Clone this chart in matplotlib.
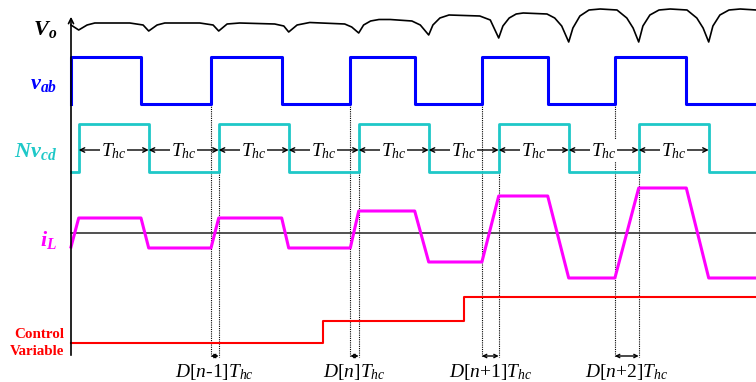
import numpy as np
import matplotlib
matplotlib.use('Agg')
import matplotlib.pyplot as plt

plt.rcParams['mathtext.fontset'] = 'custom'
plt.rcParams['mathtext.rm'] = 'Liberation Serif'
plt.rcParams['mathtext.it'] = 'Liberation Serif:italic'
plt.rcParams['mathtext.bf'] = 'Liberation Serif:bold'
plt.rcParams['mathtext.bfit'] = 'Liberation Serif:italic:bold'
plt.rcParams['font.family'] = 'Liberation Serif'

# time in units of T_hc
vo_t = [0.00, 0.11, 0.23, 0.34, 0.84, 1.03, 1.11, 1.23, 1.34, 1.84, 2.03, 2.11, 2.23, 2.41,
        2.91, 3.04, 3.11, 3.23, 3.41, 3.91, 4.01, 4.11, 4.18, 4.28, 4.40, 4.56, 4.87, 4.99,
        5.11, 5.17, 5.27, 5.40, 5.84, 5.99, 6.11, 6.17, 6.26, 6.36, 6.46, 6.80, 6.91, 7.01,
        7.11, 7.17, 7.27, 7.40, 7.56, 7.80, 7.94, 8.03, 8.11, 8.17, 8.27, 8.40, 8.56, 8.80,
        8.94, 9.03, 9.11, 9.17, 9.27, 9.40, 9.56, 9.79]
vo_v = [25, 20, 25, 27, 27, 25, 19, 25, 27, 27, 25, 19, 26, 27,
        26, 24, 18, 25, 27.5, 26, 23, 17, 25, 29, 30.5, 30.5, 29, 25,
        15, 25, 32, 35, 34, 30, 12, 24, 32, 36, 37, 36, 32, 24,
        8, 22, 34, 40, 41, 40, 32, 22, 8, 24, 35, 40, 41, 40,
        32, 22, 8, 24, 35, 40, 41, 40]

vab_edges = [0.0, 1.0, 2.0, 3.01, 3.99, 4.91, 5.87, 6.81, 7.77, 8.79, 9.79]
nvcd_edges = [0.11, 1.11, 2.11, 3.11, 4.11, 5.11, 6.11, 7.11, 8.11, 9.11]

il_t = [0.0, 0.11, 1.0, 1.11, 2.0, 2.11, 3.01, 3.11, 3.99, 4.11, 4.91, 5.11, 5.87, 6.11,
        6.81, 7.11, 7.77, 8.11, 8.79, 9.11, 9.79]
il_v = [-14, 15, 15, -15, -15, 15, 15, -15, -15, 22, 22, -29, -29, 37,
        37, -45, -45, 45, 45, -45, -45]

ctrl_steps = [3.6, 5.61]
ctrl_levels = [0, 22, 46]

d_starts = [2.0, 3.99, 5.87, 7.77]     # v_ab rising edges
d_ends = [2.11, 4.11, 6.11, 8.11]      # Nv_cd rising edges
d_labels = [r'$D[n$-$1]T_{hc}$', r'$D[n]T_{hc}$', r'$D[n$+$1]T_{hc}$', r'$D[n$+$2]T_{hc}$']

t_end = 9.79
BLUE, CYAN, MAG, RED = '#0000ff', '#1ec8c8', '#ff00ff', '#ff0000'

# vertical placement (figure pixels from top)
VO0, VAB0, VABA, NV0, NVA, IL0, CT0 = 50, 80.5, 23.5, 148, 24, 233, 343


def square(edges, start, t0, t1):
    ts, vs = [t0], [start]
    lev = start
    for e in edges:
        ts += [e, e]
        vs += [lev, -lev]
        lev = -lev
    ts.append(t1)
    vs.append(lev)
    return np.array(ts), np.array(vs)


fig = plt.figure(figsize=(7.56, 3.82), dpi=100)
ax = fig.add_axes([0, 0, 1, 1])
ax.set_xlim(-71 / 70, 685 / 70)
ax.set_ylim(382, 0)
ax.axis('off')

# axis
ax.annotate('', xy=(0, 14), xytext=(0, 358),
            arrowprops=dict(arrowstyle='->', color='black', lw=1.2, mutation_scale=9))

# Vo
ax.plot(vo_t, VO0 - np.array(vo_v), color='black', lw=1.2)

# vab
t, v = square(vab_edges[1:-1], 1, 0, t_end)
t = np.concatenate([[0], t])
v = np.concatenate([[-1], v])
ax.plot(t, VAB0 - VABA * v, color=BLUE, lw=2.2)

# Nvcd
t, v = square(nvcd_edges, -1, 0, t_end)
ax.plot(t, NV0 - NVA * v, color=CYAN, lw=2)

# iL
ax.plot([0, t_end], [IL0, IL0], color='#333333', lw=1.2)
ax.plot(il_t, IL0 - np.array(il_v), color=MAG, lw=2.2)

# control variable
ct = [0, ctrl_steps[0], ctrl_steps[0], ctrl_steps[1], ctrl_steps[1], t_end]
cv = [ctrl_levels[0], ctrl_levels[0], ctrl_levels[1], ctrl_levels[1], ctrl_levels[2], ctrl_levels[2]]
ax.plot(ct, CT0 - np.array(cv), color=RED, lw=1.5)

# T_hc arrows
for a, b in zip(nvcd_edges[:-1], nvcd_edges[1:]):
    ax.annotate('', xy=(b, 150), xytext=(a, 150),
                arrowprops=dict(arrowstyle='<->', color='black', lw=1, mutation_scale=8,
                                shrinkA=0, shrinkB=0))
    ax.text((a + b) / 2, 151, r'$T_{hc}$', fontsize=14, ha='center', va='center',
            bbox=dict(facecolor='white', edgecolor='none', pad=0.5), zorder=5)

# D[n] markers
for s, e, lab in zip(d_starts, d_ends, d_labels):
    ax.plot([s, s], [VAB0 + VABA, 357], color='black', lw=0.8, ls=(0, (1, 1)), zorder=1)
    ax.plot([e, e], [NV0 + NVA, 357], color='black', lw=0.8, ls=(0, (1, 1)), zorder=1)
    ax.annotate('', xy=(e, 356), xytext=(s, 356),
                arrowprops=dict(arrowstyle='<->', color='black', lw=1, mutation_scale=6,
                                shrinkA=0, shrinkB=0))
    ax.text((s + e) / 2, 372, lab, fontsize=14, ha='center', va='center')

# labels
lx = -0.2
ax.text(lx, 30, r'$\mathbfit{V}_{\mathbfit{o}}$', fontsize=16, ha='right', va='center', color='black')
ax.text(lx, 84, r'$\mathbfit{v}_{\mathbfit{ab}}$', fontsize=16, ha='right', va='center', color=BLUE)
ax.text(lx, 151, r'$\mathbfit{Nv}_{\mathbfit{cd}}$', fontsize=16, ha='right', va='center', color=CYAN)
ax.text(lx, 240, r'$\mathbfit{i}_{\mathbfit{L}}$', fontsize=16, ha='right', va='center', color=MAG)
ax.text(-0.1, 343, 'Control\nVariable', fontsize=10.8, fontweight='bold', ha='right', va='center',
        color=RED, linespacing=1.35)

fig.savefig('out.png', dpi=100)
